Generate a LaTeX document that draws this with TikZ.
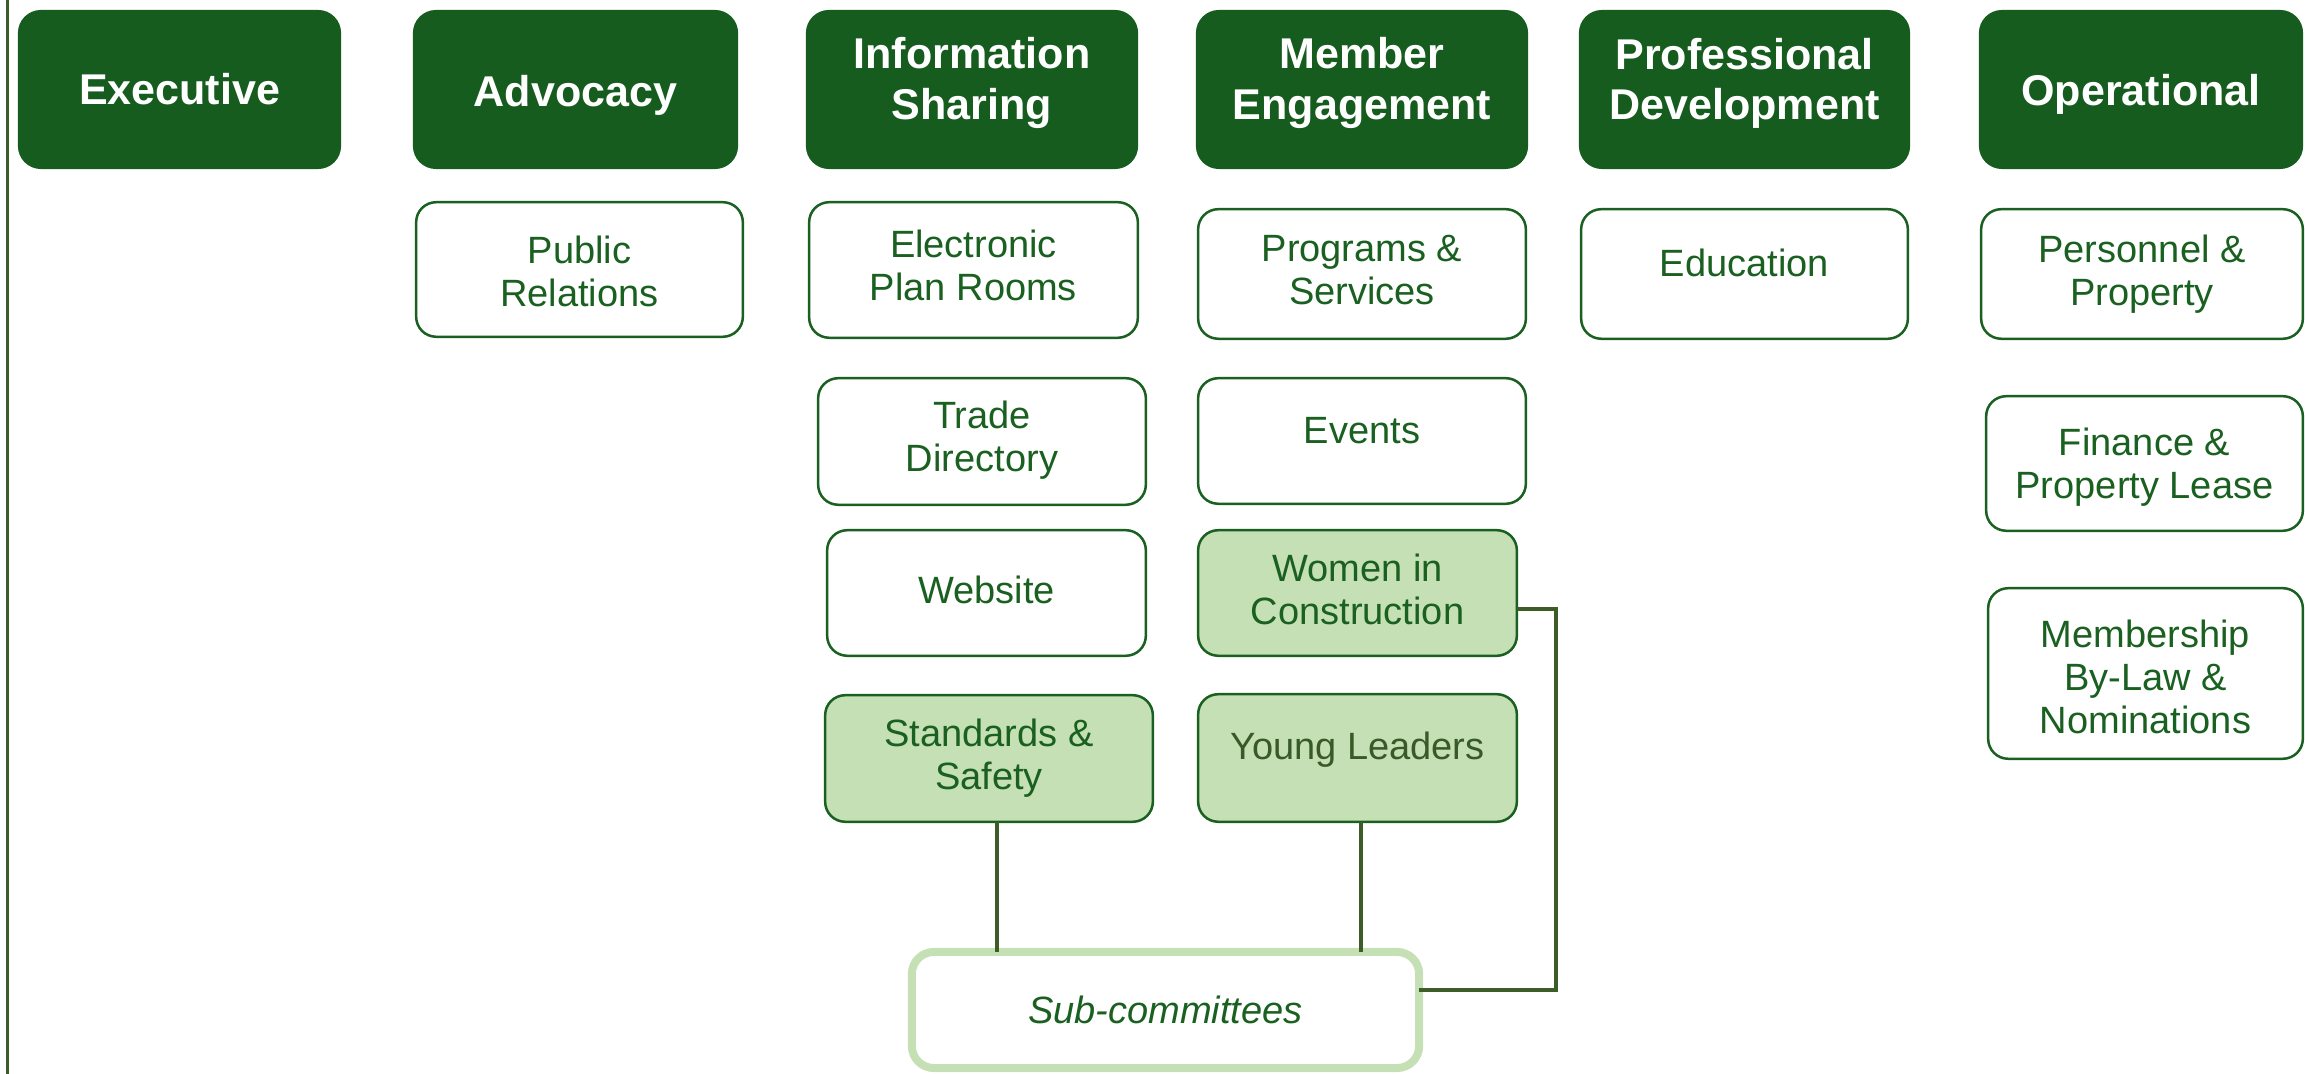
\documentclass[tikz,border=0pt]{standalone}
\usepackage{fontspec}
\setmainfont{Liberation Sans}
\definecolor{hdrgreen}{RGB}{22,92,30}
\definecolor{txtgreen}{RGB}{26,96,32}
\definecolor{lightgreen}{RGB}{197,224,180}
\definecolor{linegreen}{RGB}{60,92,40}
\definecolor{ylgreen}{RGB}{56,90,40}
\begin{document}
\begin{tikzpicture}[x=0.01cm,y=-0.01cm,
  hdr/.style={fill=hdrgreen, draw=none, rounded corners=0.23cm, inner sep=0pt, outer sep=0pt},
  wbox/.style={fill=white, draw=txtgreen, line width=0.025cm, rounded corners=0.2cm, inner sep=0pt, outer sep=0pt},
  gbox/.style={wbox, fill=lightgreen},
  subbox/.style={fill=white, draw=lightgreen, line width=0.08cm, rounded corners=0.22cm, inner sep=0pt, outer sep=0pt},
  htxt/.style={text=white, font=\fontsize{12.24pt}{14.23pt}\selectfont\bfseries, align=center},
  btxt/.style={text=txtgreen, font=\fontsize{10.81pt}{12.24pt}\selectfont, align=center},
  hlab/.style 2 args={label={[htxt, yshift=#1]center:{#2}}},
  blab/.style 2 args={label={[btxt, yshift=#1]center:{#2}}},
  ylab/.style 2 args={label={[btxt, text=ylgreen, yshift=#1]center:{#2}}},
  slab/.style 2 args={label={[btxt, font=\fontsize{10.81pt}{12.24pt}\selectfont\itshape, yshift=#1]center:{#2}}},
  conn/.style={draw=linegreen, line width=0.035cm},
]
\useasboundingbox (0,0) rectangle (2305,1074);

% left rule
\draw[linegreen, line width=0.035cm] (7.5,0) -- (7.5,1074);

% header row
\node[hdr, minimum width=3.23cm, minimum height=1.59cm, hlab={0cm}{Executive}] (exec) at (179.5,89.5) {};
\node[hdr, minimum width=3.25cm, minimum height=1.59cm, hlab={-0.06cm}{Advocacy}] (adv) at (575.5,89.5) {};
\node[hdr, minimum width=3.32cm, minimum height=1.59cm, hlab={0.065cm}{Information\\Sharing}] (info) at (972,89.5) {};
\node[hdr, minimum width=3.32cm, minimum height=1.59cm, hlab={0.065cm}{Member\\Engagement}] (mem) at (1362,89.5) {};
\node[hdr, minimum width=3.31cm, minimum height=1.59cm, hlab={0.065cm}{Professional\\Development}] (prof) at (1744.5,89.5) {};
\node[hdr, minimum width=3.24cm, minimum height=1.59cm, hlab={-0.045cm}{Operational}] (oper) at (2141,89.5) {};

% second row
\node[wbox, minimum width=3.265cm, minimum height=1.345cm, blab={-0.02cm}{Public\\Relations}] (pr) at (579.5,269.5) {};
\node[wbox, minimum width=3.285cm, minimum height=1.355cm, blab={0.05cm}{Electronic\\Plan Rooms}] (epr) at (973.5,270) {};
\node[wbox, minimum width=3.275cm, minimum height=1.295cm, blab={0.04cm}{Programs \&\\Services}] (ps) at (1362,274) {};
\node[wbox, minimum width=3.265cm, minimum height=1.295cm, blab={0.11cm}{Education}] (edu) at (1744.5,274) {};
\node[wbox, minimum width=3.215cm, minimum height=1.295cm, blab={0cm}{Personnel \&\\Property}] (pp) at (2142,274) {};

% third row
\node[wbox, minimum width=3.275cm, minimum height=1.265cm, blab={0.01cm}{Trade\\Directory}] (td) at (982,441.5) {};
\node[wbox, minimum width=3.275cm, minimum height=1.255cm, blab={0.10cm}{Events}] (ev) at (1362,441) {};
\node[wbox, minimum width=3.165cm, minimum height=1.345cm, blab={-0.04cm}{Finance \&\\Property Lease}] (fpl) at (2144.5,463.5) {};

% fourth row
\node[wbox, minimum width=3.185cm, minimum height=1.255cm, blab={0.035cm}{Website}] (web) at (986.5,593) {};
\node[gbox, minimum width=3.185cm, minimum height=1.255cm, blab={0.04cm}{Women in\\Construction}] (wic) at (1357.5,593) {};
\node[wbox, minimum width=3.145cm, minimum height=1.705cm, blab={-0.03cm}{Membership\\By-Law \&\\Nominations}] (mbn) at (2145.5,673.5) {};

% fifth row
\node[gbox, minimum width=3.275cm, minimum height=1.265cm, blab={0cm}{Standards \&\\Safety}] (ss) at (989,758.5) {};
\node[gbox, minimum width=3.185cm, minimum height=1.275cm, ylab={0.08cm}{Young Leaders}] (yl) at (1357.5,758) {};

% sub-committees
\node[subbox, minimum width=5.07cm, minimum height=1.16cm, slab={0cm}{Sub-committees}] (sub) at (1165.5,1010) {};

% connectors
\coordinate (ssx) at ([xshift=0.08cm]ss.south);
\coordinate (ylx) at ([xshift=0.035cm]yl.south);
\coordinate (wicx) at ([yshift=-0.16cm]wic.east);
\coordinate (subx) at ([yshift=0.2cm]sub.east);
\draw[conn] (ssx) -- (ssx |- sub.north);
\draw[conn] (ylx) -- (ylx |- sub.north);
\draw[conn] (wicx) -- ++(39,0) |- (subx);
\end{tikzpicture}
\end{document}
